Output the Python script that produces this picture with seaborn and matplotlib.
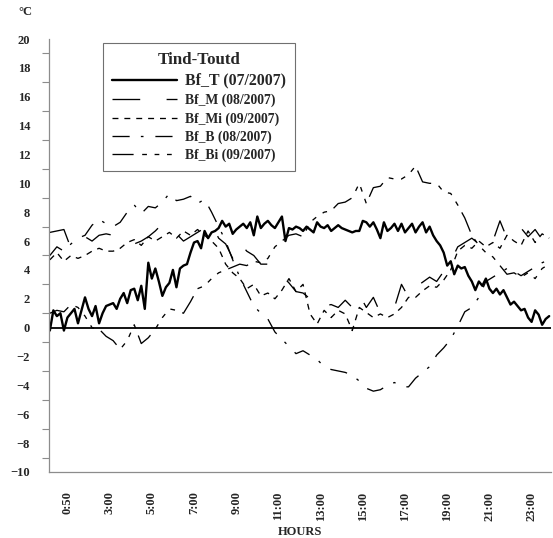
import matplotlib
matplotlib.use("Agg")
import matplotlib.pyplot as plt
import seaborn as sns
import pandas as pd
from matplotlib.ticker import MultipleLocator

# ---------------- data ----------------
# 10-minute grid (0:10 ... 23:50) for the solid series, 20-minute grid for the dashed ones
hours_10 = [k / 6 for k in range(1, 144)]
hours_20 = [1 / 6 + j / 3 for j in range(72)]

bf_t = [-0.2, 1.2, 0.8, 1.0, -0.2, 0.7, 1.0, 1.3, 0.3, 1.2,
        2.1, 1.3, 0.8, 1.5, 0.3, 1.0, 1.5, 1.6, 1.7, 1.3,
        2.0, 2.4, 1.7, 2.6, 2.7, 1.9, 2.9, 1.3, 4.5, 3.4,
        4.1, 3.2, 2.2, 2.8, 3.1, 4.0, 2.8, 4.1, 4.3, 4.4,
        5.2, 5.9, 6.0, 5.5, 6.7, 6.2, 6.6, 6.7, 6.9, 7.4,
        7.0, 7.2, 6.5, 6.8, 7.0, 7.2, 6.9, 7.3, 6.4, 7.7,
        6.9, 7.2, 7.4, 7.1, 6.9, 7.3, 7.7, 6.0, 6.9, 6.8,
        7.0, 6.9, 6.7, 7.0, 6.8, 6.6, 7.3, 7.0, 6.9, 7.1,
        6.7, 6.9, 7.1, 6.9, 6.8, 6.7, 6.6, 6.7, 6.7, 7.4,
        7.3, 7.0, 7.3, 6.8, 6.2, 7.3, 6.7, 6.9, 7.2, 6.7,
        7.2, 6.6, 6.9, 7.2, 6.6, 7.0, 7.3, 6.6, 7.0, 6.4,
        6.0, 5.7, 5.2, 4.3, 4.6, 3.7, 4.3, 4.1, 4.2, 3.6,
        3.2, 2.6, 3.2, 2.9, 3.4, 2.7, 2.4, 2.7, 2.3, 2.6,
        2.1, 1.6, 1.8, 1.5, 1.2, 1.3, 0.7, 0.4, 1.2, 0.9,
        0.2, 0.6, 0.8]

bf_m = [6.6, 6.7, 6.8, 5.5, 5.9, 6.3, 6.0, 6.4, 6.5, 6.4,
        6.2, 6.0, 5.8, 6.0, 6.3, 6.7, 7.2, 6.8, 6.5, 6.0,
        6.3, 6.6, 6.9, 7.2, 6.2, 5.8, 4.8, 5.9, 5.3, 5.0,
        4.4, 4.4, 4.2, 3.6, 3.1, 2.5, 2.4, 2.0, 1.4, 1.5,
        1.6, 1.4, 1.9, 1.4, 2.3, 1.4, 2.1, 1.0, 1.2, 1.4,
        3.0, 2.1, 2.8, 3.15, 3.5, 3.2, 3.9, 4.6, 5.6, 5.9,
        6.2, 5.8, 6.3, 6.0, 7.4, 6.2, 6.5, 6.9, 6.3, 6.8,
        6.1, 6.6]

bf_mi = [4.7, 5.2, 4.6, 5.0, 4.8, 5.0, 5.3, 5.5, 5.3, 5.3,
         5.5, 5.9, 6.1, 5.7, 6.3, 6.0, 6.3, 6.6, 6.2, 6.7,
         6.4, 6.8, 6.4, 6.0, 5.5, 4.4, 3.8, 3.4, 2.7, 3.0,
         2.2, 2.4, 2.0, 2.6, 3.4, 2.5, 3.0, 0.95, 0.25, 1.2,
         0.7, 1.2, 0.95, -0.2, 1.4, 1.05, 0.7, 0.95, 0.7, 0.95,
         1.4, 2.1, 2.1, 2.55, 2.9, 2.8, 3.3, 4.0, 5.3, 5.7,
         5.5, 6.0, 5.6, 5.9, 5.5, 6.4, 6.0, 5.7, 6.7, 5.9,
         6.5, 6.2]

bf_b = [5.0, 5.6, 5.3, 5.8, 6.2, 6.4, 7.1, 7.5, 7.2, 7.0,
        7.3, 8.0, 8.5, 7.9, 8.4, 8.3, 8.7, 9.3, 8.8, 8.9,
        9.1, 8.6, 8.9, 8.0, 7.0, 6.0, 4.7, 3.5, 2.5, 1.5,
        1.0, 0.6, -0.3, -0.8, -1.3, -1.8, -1.6, -1.9, -2.2, -2.7,
        -2.9, -3.0, -3.1, -3.3, -3.7, -4.2, -4.4, -4.3, -4.0, -3.8,
        -4.1, -4.1, -3.5, -3.1, -2.7, -1.9, -1.4, -0.8, 0.1, 1.1,
        1.4, 2.1, 3.2, 3.5, 3.8, 4.1, 3.9, 3.6, 3.9, 4.2,
        4.5, 4.7]

bf_bi = [1.0, 1.2, 1.1, 1.6, 1.4, 0.8, 0.0, -0.1, -0.6, -0.9,
         -1.5, -0.9, 0.2, -1.1, -0.7, -0.1, 0.7, 1.3, 1.2, 1.0,
         1.8, 2.7, 2.9, 3.4, 3.8, 4.0, 4.2, 4.4, 4.3, 4.6,
         4.5, 4.8, 5.6, 6.0, 6.4, 6.5, 6.3, 7.3, 7.7, 8.0,
         8.1, 8.6, 8.7, 9.0, 10.0, 8.6, 9.7, 9.8, 10.4, 10.3,
         10.3, 10.6, 11.2, 10.1, 10.0, 10.0, 9.4, 9.3, 8.5, 7.6,
         6.4, 5.7, 5.2, 4.9, 4.3, 3.7, 3.8, 3.5, 3.8, 3.4,
         4.1, 4.4]

series_names = ["Bf_T (07/2007)", "Bf_M (08/2007)", "Bf_Mi (09/2007)",
                "Bf_B (08/2007)", "Bf_Bi (09/2007)"]
tick_hours = [1, 3, 5, 7, 9, 11, 13, 15, 17, 19, 21, 23]
tick_labels = ["0:50", "3:00", "5:00", "7:00", "9:00", "11:00", "13:00",
               "15:00", "17:00", "19:00", "21:00", "23:00"]

# ---------------- style ----------------
sns.set_style("white")
plt.rcParams["font.family"] = ["Liberation Serif", "DejaVu Serif"]
plt.rcParams["font.weight"] = "bold"

fig = plt.figure(figsize=(5.53, 5.38), dpi=100)
ax = fig.add_axes([0.0895, 0.1227, 0.9069, 0.8048])

frames = [
    pd.DataFrame({"hour": hours_10, "value": bf_t}),
    pd.DataFrame({"hour": hours_20, "value": bf_m}),
    pd.DataFrame({"hour": hours_20, "value": bf_mi}),
    pd.DataFrame({"hour": hours_20, "value": bf_b}),
    pd.DataFrame({"hour": hours_20, "value": bf_bi}),
]
line_styles = [
    dict(lw=1.7, ls="-"),
    dict(lw=0.95, ls=(0, (21, 20))),
    dict(lw=0.95, ls=(0, (4.5, 4.5))),
    dict(lw=0.95, ls=(0, (13, 8.5, 2, 9))),
    dict(lw=0.95, ls=(0, (16, 6.5, 3.6, 5.8, 3.6, 5.8, 3.6, 5.8))),
]

handles = []
for name, df, st in zip(series_names, frames, line_styles):
    sns.lineplot(data=df, x="hour", y="value", ax=ax, color="black",
                 linewidth=st["lw"], linestyle=st["ls"], label=name,
                 legend=False)
    handles.append(ax.get_lines()[-1])

ax.axhline(0, color="black", lw=1.3, zorder=1)

ax.set_xlim(0.15, 23.92)
ax.set_ylim(-10, 20)
ax.set_xticks(tick_hours)
ax.set_xticklabels(tick_labels, rotation=90)
ax.yaxis.set_major_locator(MultipleLocator(2))
ax.yaxis.set_minor_locator(MultipleLocator(1))

gray = "#8c8c8c"
ax.tick_params(axis="x", which="major", length=10, width=0.8, color=gray,
               pad=4, labelsize=9)
ax.tick_params(axis="y", which="major", length=11, width=0.8, color=gray,
               pad=3, labelsize=9)
ax.tick_params(axis="y", which="minor", length=5, width=0.8, color=gray,
               left=True)
sns.despine(ax=ax)
for sp in ("left", "bottom"):
    ax.spines[sp].set_color(gray)
    ax.spines[sp].set_linewidth(0.9)

ax.set_xlabel("HOURS", fontsize=9, fontweight="bold", labelpad=4)
ax.set_ylabel("")
fig.text(25 / 553, 1 - 12 / 538, "°C", ha="center", va="center",
         fontsize=9, fontweight="bold")

leg = ax.legend(handles, series_names, title="Tind-Toutd",
                loc="upper left", bbox_to_anchor=(103 / 553, 1 - 43 / 538),
                bbox_transform=fig.transFigure, frameon=True, fancybox=False,
                edgecolor="#707070", framealpha=1,
                prop=dict(family="Liberation Serif", weight="bold", size=9.8),
                title_fontproperties=dict(family="Liberation Serif",
                                          weight="bold", size=12.2),
                handlelength=4.8, handletextpad=0.6, labelspacing=0.36,
                borderpad=0.65, borderaxespad=0)
leg.get_texts()[0].set_fontsize(11.4)
leg.get_frame().set_linewidth(0.8)

fig.savefig("out.png", dpi=100)
